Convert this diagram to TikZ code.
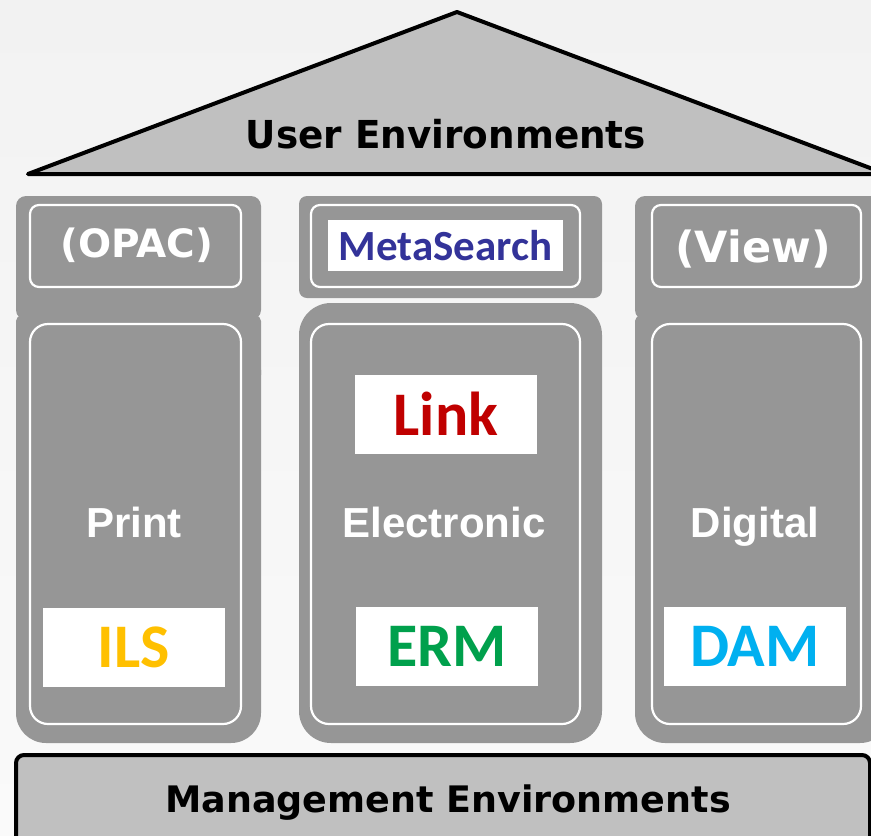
\documentclass[tikz,border=0pt]{standalone}
\usepackage{fontspec}
\newfontfamily\verdfont{DejaVu Sans}
\newfontfamily\narrowfont[FakeStretch=0.97]{DejaVu Sans}
\newfontfamily\arialfont{Liberation Sans}
\newfontfamily\califont{Carlito}

\definecolor{bgtop}{HTML}{F2F2F2}
\definecolor{bgbot}{HTML}{FAFAFA}
\definecolor{roof}{HTML}{C0C0C0}
\definecolor{pillar}{HTML}{969696}
\definecolor{metablue}{HTML}{333399}
\definecolor{linkred}{HTML}{C00000}
\definecolor{ilsgold}{HTML}{FFC000}
\definecolor{ermgreen}{HTML}{00A04C}
\definecolor{damblue}{HTML}{00B0F0}

\begin{document}
\begin{tikzpicture}[x=1pt,y=-1pt,
    frame/.style={draw=white,line width=2.2pt,rounded corners=18pt},
    tag/.style={fill=white,inner sep=0pt,text depth=0pt,minimum width=182pt,minimum height=79pt,
        font=\califont\bfseries\fontsize{62}{62}\selectfont},
    coltext/.style={text=white,anchor=base,font=\arialfont\bfseries\fontsize{42}{42}\selectfont},
    headtext/.style={text=white,anchor=base,font=\verdfont\bfseries\fontsize{39}{39}\selectfont}]
    \shade[top color=bgtop,bottom color=bgbot] (0,0) rectangle (871,836);
    \useasboundingbox (0,0) rectangle (871,836);

    % roof
    \draw[fill=roof,line width=4pt,line join=round] (28,174) -- (457,12) -- (886,174) -- cycle;
    \node[anchor=base,font=\narrowfont\bfseries\fontsize{38.5}{38.5}\selectfont] (user) at (446,148) {User Environments};

    % pillars
    \foreach \xa/\xb in {16/261,635/890}{
        \fill[pillar,rounded corners=10pt] (\xa,196) rectangle (\xb,320);
        \fill[pillar,rounded corners=5pt] (\xa,316) rectangle (\xb,380);
        \fill[pillar,rounded corners=30pt] (\xa,340) rectangle (\xb,743);
    }
    \fill[pillar,rounded corners=8pt] (299,196) rectangle (602,298);
    \fill[pillar,rounded corners=32pt] (299,303) rectangle (602,743);

    \foreach \xa/\xb in {30/241,311/580,652/861}{
        \draw[frame,rounded corners=9pt] (\xa,205) rectangle (\xb,287);
        \draw[frame] (\xa,324) rectangle (\xb,724);
    }

    \node[headtext] (opac) at (137,257) {(OPAC)};
    \node[headtext,font=\verdfont\bfseries\fontsize{43}{43}\selectfont] (view) at (753,262) {(View)};
    \node[tag,minimum width=235pt,minimum height=51pt,text=metablue,
        font=\califont\bfseries\fontsize{43}{43}\selectfont] (meta) at (445.5,245.5) {MetaSearch};

    \node[coltext] (print) at (134,537) {Print};
    \node[coltext] (elec) at (444,537) {Electronic};
    \node[coltext] (digi) at (755,537) {Digital};

    \node[tag,text=linkred] (link) at (446,414) {Link};
    \node[tag,text=ilsgold] (ils) at (134,647) {ILS};
    \node[tag,text=ermgreen] (erm) at (447,646) {ERM};
    \node[tag,text=damblue] (dam) at (755,646) {DAM};

    % foundation
    \draw[fill=roof,line width=4pt,rounded corners=8pt] (16,755) rectangle (870,860);
    \node[anchor=base,font=\verdfont\bfseries\fontsize{36.5}{36.5}\selectfont] (mgmt) at (448,812) {Management Environments};
\end{tikzpicture}
\end{document}
